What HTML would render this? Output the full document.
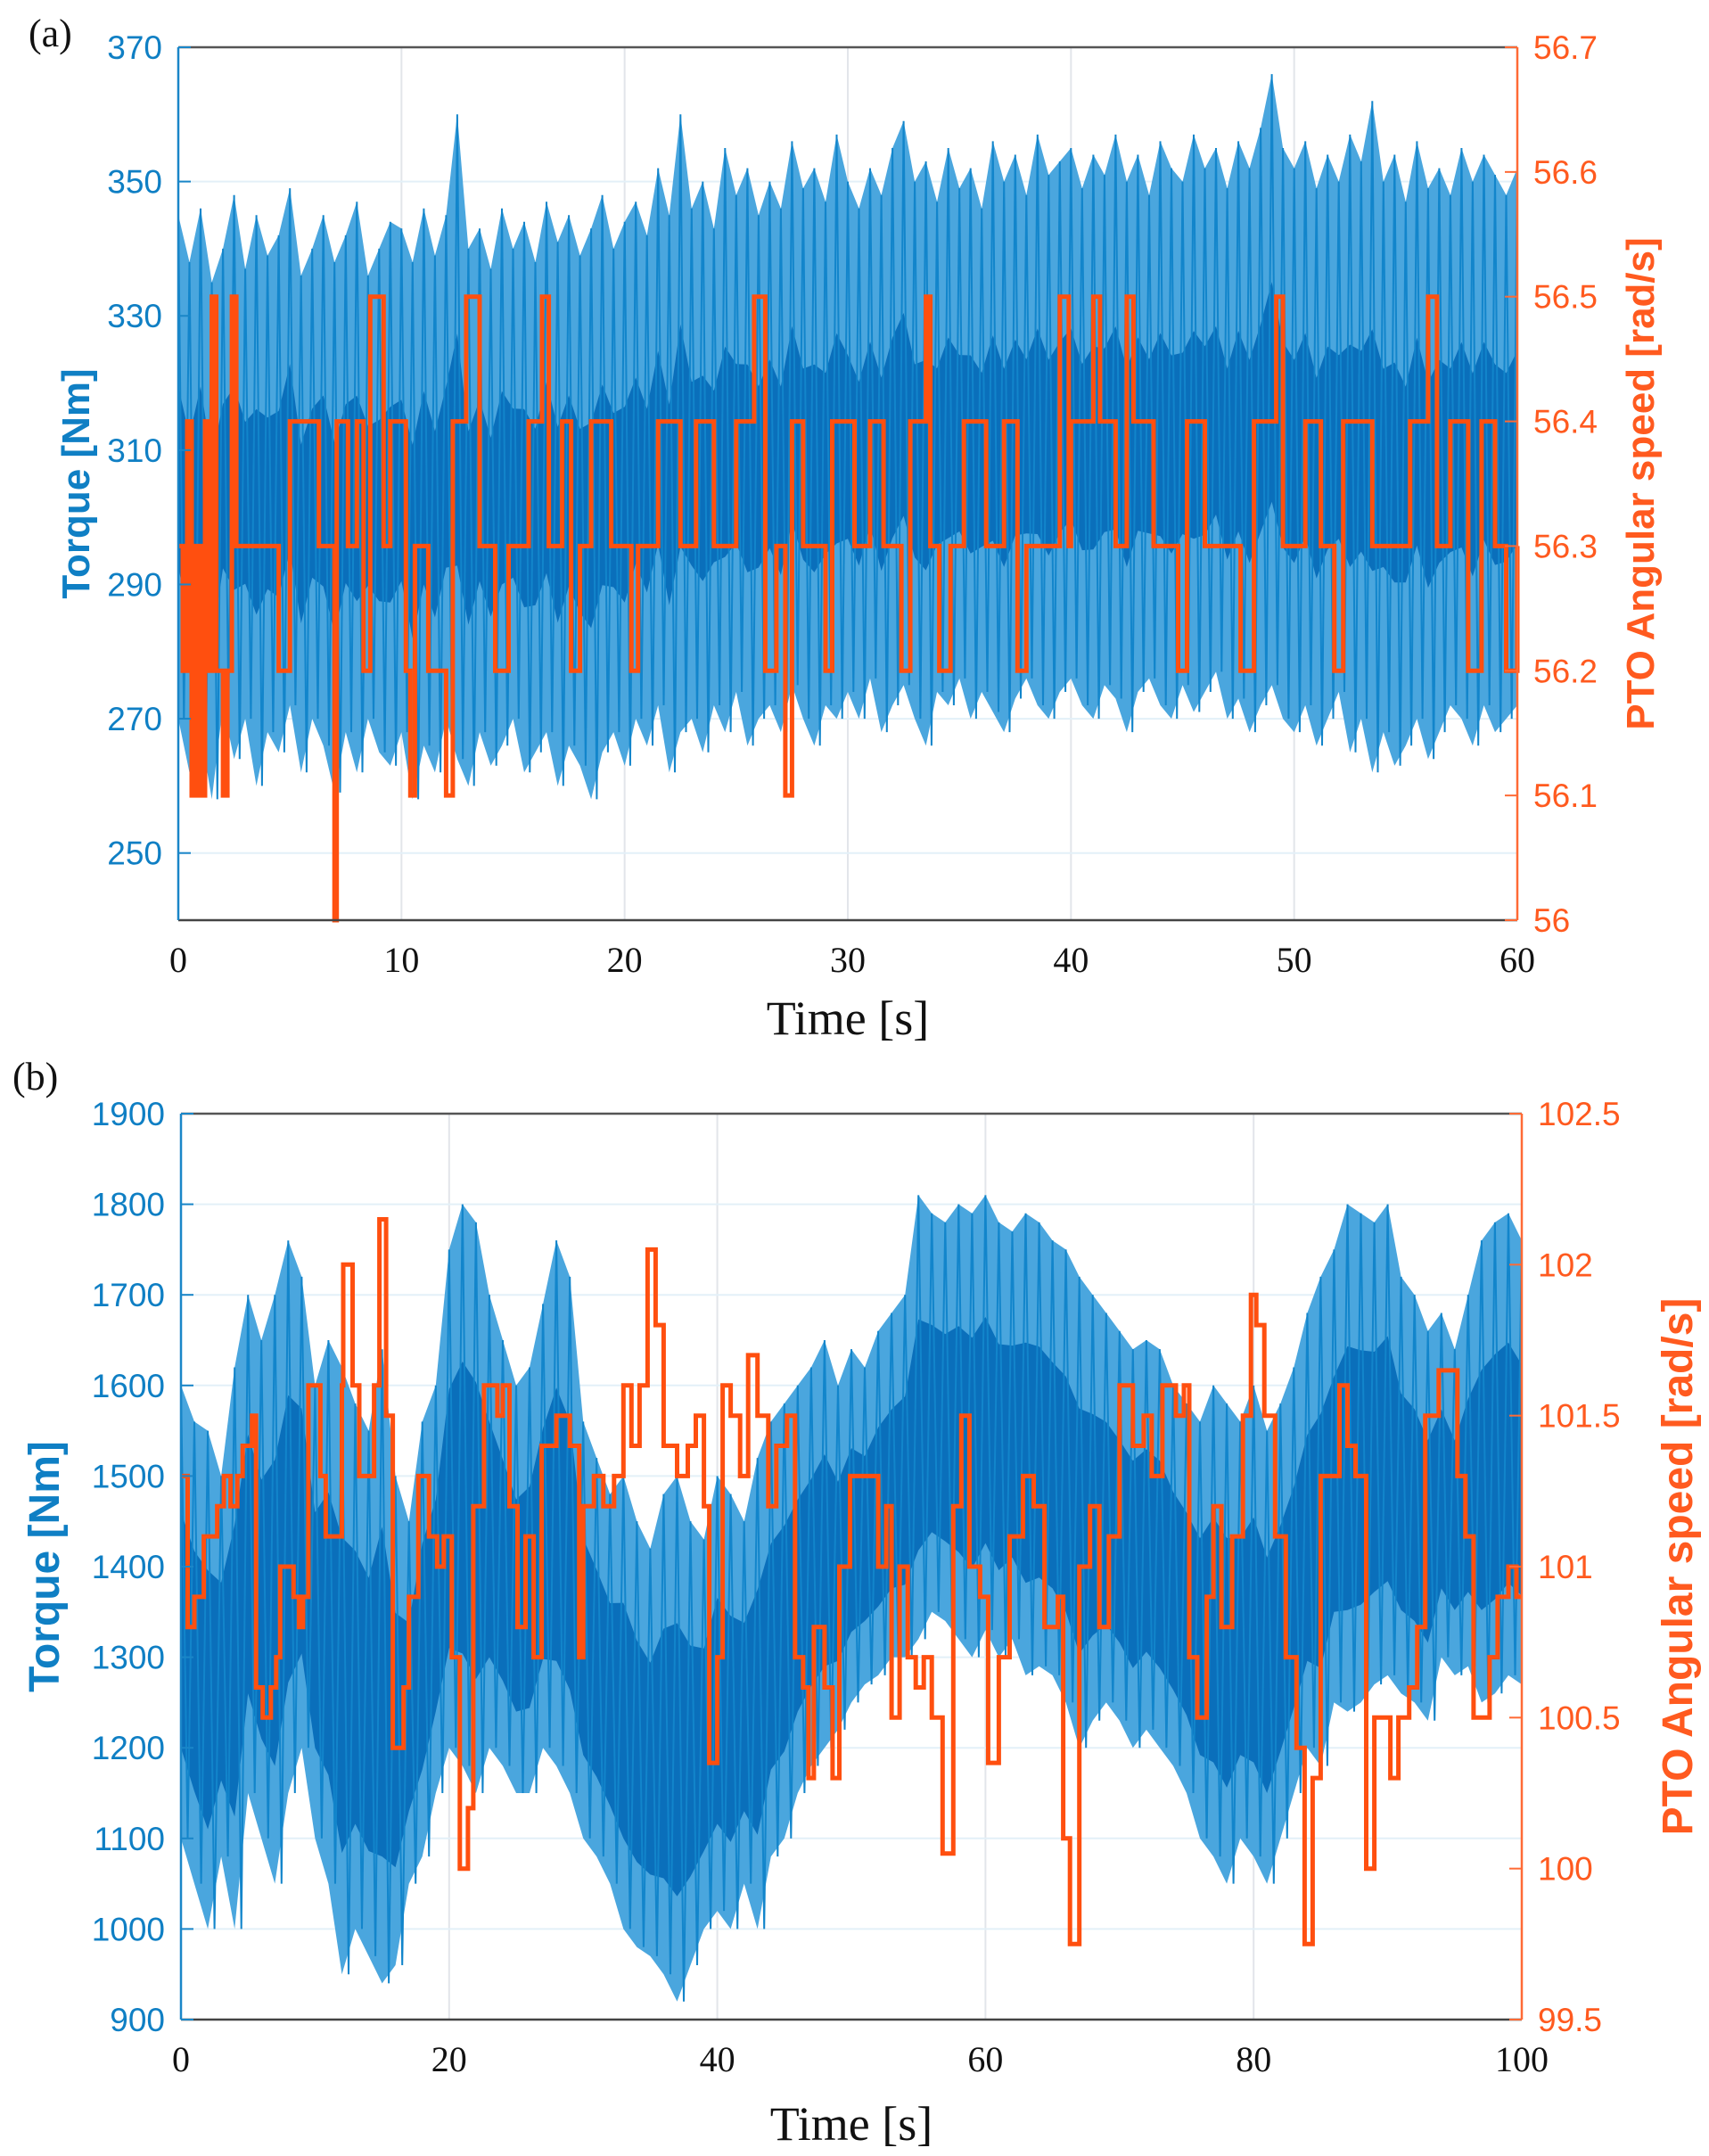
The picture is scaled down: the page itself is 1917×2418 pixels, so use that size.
<!DOCTYPE html>
<html><head><meta charset="utf-8"><style>
html,body{margin:0;padding:0;background:#fff;}
svg{display:block;}
.tl{font-family:"Liberation Sans",sans-serif;font-size:37px;fill:#0f7fc4;}
.tr{font-family:"Liberation Sans",sans-serif;font-size:37px;fill:#ff5a1f;}
.tx{font-family:"Liberation Serif",serif;font-size:40px;fill:#111;}
.ttl{font-family:"Liberation Serif",serif;font-size:54px;fill:#111;}
</style></head><body>
<svg id="fig" width="1917" height="2418" viewBox="0 0 1917 2418">
<text x="32" y="52" class="ttl" style="font-size:44px">(a)</text>
<text x="14" y="1222" class="ttl" style="font-size:44px">(b)</text>
<g id="pa"></g>
<g id="pb"></g>
</svg>
<script>
// ---- Panel A data ----
const aTorqueUpper=[345,338,346,335,340,348,337,345,339,342,349,336,340,345,338,342,347,336,340,344,
343,338,346,339,345,360,340,343,337,346,340,344,338,347,341,345,339,343,348,340,
344,347,342,352,345,360,346,350,343,355,348,352,345,350,346,356,349,352,347,357,
350,346,352,348,355,359,350,353,347,355,349,352,346,356,350,354,348,357,351,353,
355,349,354,351,357,350,354,348,356,352,350,357,352,355,349,356,352,358,366,355,
352,356,349,354,350,357,353,362,350,354,347,356,349,352,348,355,350,354,351,348,352];
const aTorqueLower=[270,262,268,258,272,264,270,260,268,265,272,262,270,266,259,268,262,270,265,263,
268,258,266,262,270,264,260,268,263,266,270,262,265,268,260,266,263,258,265,268,
263,270,266,272,262,268,270,265,272,268,274,266,270,272,268,275,270,266,272,270,
274,270,276,268,272,275,270,266,274,272,276,270,274,271,268,273,276,272,270,274,
276,272,270,275,273,268,274,276,272,270,275,271,274,277,270,273,268,272,275,270,
268,272,266,270,274,265,270,262,268,263,266,270,264,268,272,270,266,272,268,270,272];
const aSpeedT=[0,0.2,0.4,0.6,0.8,1.0,1.2,1.4,1.5,1.7,2.0,2.2,2.4,2.6,4.5,5.0,6.3,7.0,7.1,7.6,8.0,8.3,8.6,9.2,9.5,10.2,10.4,10.6,11.2,12.0,12.3,12.9,13.5,14.2,14.8,15.7,16.3,16.6,17.2,17.6,18.0,18.5,19.4,20.3,20.6,21.5,22.5,23.2,24.0,25.0,25.8,26.3,26.8,27.2,27.5,28.0,29.0,29.3,30.3,31.0,31.6,32.4,32.8,33.5,33.7,34.1,34.6,35.2,36.2,37.0,37.6,38.0,39.5,39.9,40.0,41.0,41.3,42.0,42.5,42.8,43.7,44.8,45.2,46.0,47.6,48.2,49.2,49.5,50.5,51.2,51.8,52.2,53.5,55.2,56.0,56.4,57.0,57.8,58.4,59.0,59.5,60];
const aSpeedV=[56.3,56.2,56.4,56.1,56.3,56.1,56.4,56.2,56.5,56.2,56.1,56.2,56.5,56.3,56.2,56.4,56.3,56.0,56.4,56.3,56.4,56.2,56.5,56.3,56.4,56.2,56.1,56.3,56.2,56.1,56.4,56.5,56.3,56.2,56.3,56.4,56.5,56.3,56.4,56.2,56.3,56.4,56.3,56.2,56.3,56.4,56.3,56.4,56.3,56.4,56.5,56.2,56.3,56.1,56.4,56.3,56.2,56.4,56.3,56.4,56.3,56.2,56.4,56.5,56.3,56.2,56.3,56.4,56.3,56.4,56.2,56.3,56.5,56.3,56.4,56.5,56.4,56.3,56.5,56.4,56.3,56.2,56.4,56.3,56.2,56.4,56.5,56.3,56.4,56.3,56.2,56.4,56.3,56.4,56.5,56.3,56.4,56.2,56.4,56.3,56.2,56.3];
const aXTicks=[0,10,20,30,40,50,60];
const aLTicks=[250,270,290,310,330,350,370];
const aRTicks=["56","56.1","56.2","56.3","56.4","56.5","56.6","56.7"];
// ---- Panel B data ----
const bTorqueUpper=[1600,1560,1550,1500,1620,1700,1650,1700,1760,1720,1600,1650,1620,1580,1550,1640,1500,1450,1560,1600,
1750,1800,1780,1700,1650,1600,1620,1690,1760,1720,1560,1520,1480,1500,1450,1420,1480,1500,1450,1430,
1500,1480,1450,1520,1560,1580,1600,1620,1650,1600,1640,1620,1660,1680,1700,1810,1790,1780,1800,1790,
1810,1780,1770,1790,1780,1760,1750,1720,1700,1680,1660,1640,1650,1640,1600,1580,1560,1600,1580,1560,
1600,1550,1580,1620,1680,1720,1750,1800,1790,1780,1800,1720,1700,1660,1680,1640,1700,1760,1780,1790,1760];
const bTorqueLower=[1100,1050,1000,1080,1000,1150,1100,1050,1150,1200,1100,1050,950,1000,970,940,960,1050,1080,1150,
1200,1180,1150,1200,1180,1150,1150,1200,1180,1150,1100,1080,1050,1000,980,970,950,920,960,1000,
1020,1000,1050,1000,1080,1100,1150,1180,1200,1220,1250,1270,1280,1300,1300,1320,1350,1340,1320,1300,
1330,1300,1320,1280,1290,1280,1250,1200,1230,1250,1230,1200,1220,1200,1180,1150,1100,1080,1050,1100,
1080,1050,1100,1150,1200,1180,1250,1240,1250,1270,1280,1260,1250,1230,1300,1280,1290,1250,1260,1280,1270];
const bSpeedT=[0,0.5,1,1.7,2.7,3.2,3.7,4.2,4.6,5.3,5.6,6.1,6.7,7.1,7.4,8.4,8.8,9.1,9.5,10.4,10.8,12,12.1,12.8,13.3,14.4,14.8,15.3,15.8,16.6,17,17.7,18.5,19.1,19.6,20.2,20.8,21.4,21.8,22.6,23.6,24.0,24.5,25.1,25.7,26.3,26.9,27.4,28,29,29.7,30,30.8,31.5,32.3,33.0,33.6,34.2,34.8,35.4,36,37,37.8,38.4,39.0,39.4,40,40.4,41,41.7,42.3,43.0,43.8,44.4,45.2,45.8,46.4,46.8,47.2,48.0,48.6,49.1,49.9,51,52,52.6,53.0,53.6,54.2,54.8,55.4,56.0,56.8,57.6,58.2,58.8,59.6,60.2,61,61.8,62.8,63.6,64.4,65.4,65.8,66.3,67.0,67.8,68.5,69.2,70,71,71.8,72.4,73.2,74.2,74.8,75.2,75.8,76.5,77,77.6,78.4,79.2,79.8,80.2,80.8,81.6,82.4,83.2,83.8,84.4,85.0,85.8,86.4,87.0,87.6,88.4,89.0,90.2,90.8,91.6,92.2,92.8,93.8,95.2,95.8,96.4,97.6,98.2,99.0,99.6,100];
const bSpeedV=[101.3,100.8,100.9,101.1,101.2,101.3,101.2,101.3,101.4,101.5,100.6,100.5,100.6,100.7,101.0,100.9,100.8,100.9,101.6,101.3,101.1,101.6,102.0,101.6,101.3,101.6,102.15,101.5,100.4,100.6,100.9,101.3,101.1,101.0,101.1,100.7,100.0,100.2,101.2,101.6,101.5,101.6,101.2,100.8,101.1,100.7,101.4,101.4,101.5,101.4,100.7,101.2,101.3,101.2,101.3,101.6,101.4,101.6,102.05,101.8,101.4,101.3,101.4,101.5,101.2,100.35,100.7,101.6,101.5,101.3,101.7,101.5,101.2,101.4,101.5,100.7,100.6,100.3,100.8,100.6,100.3,101.0,101.3,101.3,101.0,101.2,100.5,101.0,100.7,100.6,100.7,100.5,100.05,101.2,101.5,101.0,100.9,100.35,100.7,101.1,101.3,101.2,100.8,100.9,100.1,99.75,101.0,101.2,100.8,101.1,101.6,101.4,101.5,101.3,101.6,101.5,101.6,100.7,100.5,100.9,101.2,100.8,101.1,101.5,101.9,101.8,101.5,101.1,100.7,100.4,99.75,100.3,101.3,101.3,101.6,101.4,101.3,100.0,100.5,100.3,100.5,100.6,100.8,101.5,101.65,101.3,101.1,100.5,100.7,100.9,101.0,100.9,100.9];
const bXTicks=[0,20,40,60,80,100];
const bLTicks=[900,1000,1100,1200,1300,1400,1500,1600,1700,1800,1900];
const bRTicks=["99.5","100","100.5","101","101.5","102","102.5"];

const NS="http://www.w3.org/2000/svg";
function mk(parent,tag,attrs){const e=document.createElementNS(NS,tag);for(const k in attrs)e.setAttribute(k,attrs[k]);parent.appendChild(e);return e;}

function drawPanel(g,cfg){
  const {x0,x1,y0,y1,xMax,lMin,lMax,rMin,rMax,up,lo,dt,sT,sV,xT,lT,rT,fs,sw,cLo,cHi}=cfg;
  const X=t=>x0+(t/xMax)*(x1-x0);
  const YL=v=>y1-(v-lMin)/(lMax-lMin)*(y1-y0);
  const YR=v=>y1-(v-rMin)/(rMax-rMin)*(y1-y0);
  xT.forEach(t=>{const l=mk(g,'line',{x1:X(t),x2:X(t),y1:y0,y2:y1,stroke:'#e2e5ea','stroke-width':2});
    
    });
  lT.forEach(v=>{const l=mk(g,'line',{x1:x0,x2:x1,y1:YL(v),y2:YL(v),stroke:'#e3f0f8','stroke-width':2});
    
    });
  let band='';
  up.forEach((v,i)=>{band+=(i?'L':'M')+X(i*dt).toFixed(1)+','+YL(v).toFixed(1);});
  for(let i=lo.length-1;i>=0;i--)band+='L'+X(i*dt).toFixed(1)+','+YL(lo[i]).toFixed(1);
  const b=mk(g,'path',{d:band+'Z',fill:'#4aa6de'});
  
  
  let core='';
  up.forEach((v,i)=>{core+=(i?'L':'M')+X(i*dt).toFixed(1)+','+YL(lo[i]+cHi*(v-lo[i])).toFixed(1);});
  for(let i=lo.length-1;i>=0;i--)core+='L'+X(i*dt).toFixed(1)+','+YL(lo[i]+cLo*(up[i]-lo[i])).toFixed(1);
  const c=mk(g,'path',{d:core+'Z',fill:'#0a6fbb'});
  
  
  let zz='';
  up.forEach((v,i)=>{
    const xa=X(i*dt), xb=X((i+0.5)*dt);
    zz+=(i?'L':'M')+xa.toFixed(1)+','+YL(v).toFixed(1);
    if(i<up.length-1) zz+='L'+xb.toFixed(1)+','+YL(lo[i]).toFixed(1);
  });
  const z=mk(g,'path',{d:zz,fill:'none',stroke:'#1285cb','stroke-width':2});
  
  
  let sp='';
  sT.forEach((t,i)=>{
    if(i===0) sp='M'+X(t)+','+YR(sV[0]);
    else {sp+='L'+X(t).toFixed(1)+','+YR(sV[i-1]).toFixed(1)+'L'+X(t).toFixed(1)+','+YR(sV[i]).toFixed(1);}
  });
  const s=mk(g,'path',{d:sp,fill:'none',stroke:'#ff4f0f','stroke-width':sw,'stroke-linejoin':'miter'});
  
  
  const top=mk(g,'line',{x1:x0,x2:x1,y1:y0,y2:y0,stroke:'#555','stroke-width':2.5});
  
  
  const bot=mk(g,'line',{x1:x0,x2:x1,y1:y1,y2:y1,stroke:'#444','stroke-width':2.5});
  
  
  const la=mk(g,'line',{x1:x0,x2:x0,y1:y0,y2:y1,stroke:'#1a86c8','stroke-width':2.5});
  
  
  const ra=mk(g,'line',{x1:x1,x2:x1,y1:y0,y2:y1,stroke:'#ff6a35','stroke-width':2.5});
  
  
  xT.forEach(t=>{const tx=mk(g,'text',{x:X(t),y:y1+58,'text-anchor':'middle',class:'tx'});tx.textContent=t;
    
    });
  lT.forEach(v=>{mk(g,'line',{x1:x0,x2:x0+14,y1:YL(v),y2:YL(v),stroke:'#1a86c8','stroke-width':2});
    const tx=mk(g,'text',{x:x0-18,y:YL(v)+13,'text-anchor':'end',class:'tl','font-size':fs});tx.textContent=v;
    
    });
  rT.forEach(v=>{const y=YR(parseFloat(v));mk(g,'line',{x1:x1-14,x2:x1,y1:y,y2:y,stroke:'#ff6a35','stroke-width':2});
    const tx=mk(g,'text',{x:x1+18,y:y+13,class:'tr','font-size':fs});tx.textContent=v;
    
    });
  const lt=mk(g,'text',{x:0,y:0,transform:`translate(${cfg.ltx},${(y0+y1)/2}) rotate(-90)`,'text-anchor':'middle',
    style:`font-family:'Liberation Sans',sans-serif;font-weight:bold;font-size:${cfg.tfs}px;fill:#0f7fc4`});
  lt.textContent='Torque [Nm]';
  
  
  const rt=mk(g,'text',{x:0,y:0,transform:`translate(${cfg.rtx},${(y0+y1)/2}) rotate(-90)`,'text-anchor':'middle',
    style:`font-family:'Liberation Sans',sans-serif;font-weight:bold;font-size:${cfg.tfs}px;fill:#ff5a1f`});
  rt.textContent='PTO Angular speed [rad/s]';
  
  
  const xt=mk(g,'text',{x:(x0+x1)/2,y:cfg.xty,'text-anchor':'middle',class:'ttl'});
  xt.textContent='Time [s]';
  
  
}
drawPanel(document.getElementById('pa'),{x0:200,x1:1702,y0:53,y1:1032,xMax:60,lMin:240,lMax:370,rMin:56,rMax:56.7,
  up:aTorqueUpper,lo:aTorqueLower,dt:0.5,sT:aSpeedT,sV:aSpeedV,xT:aXTicks,lT:aLTicks,rT:aRTicks,fs:36,sw:5,
  ltx:100,rtx:1855,tfs:44,xty:1160,cLo:0.3,cHi:0.66});
drawPanel(document.getElementById('pb'),{x0:203,x1:1707,y0:1249,y1:2265,xMax:100,lMin:900,lMax:1900,rMin:99.5,rMax:102.5,
  up:bTorqueUpper,lo:bTorqueLower,dt:1,sT:bSpeedT,sV:bSpeedV,xT:bXTicks,lT:bLTicks,rT:bRTicks,fs:40,sw:5,
  ltx:66,rtx:1898,tfs:48,xty:2400,cLo:0.2,cHi:0.72});
</script>
</body></html>
